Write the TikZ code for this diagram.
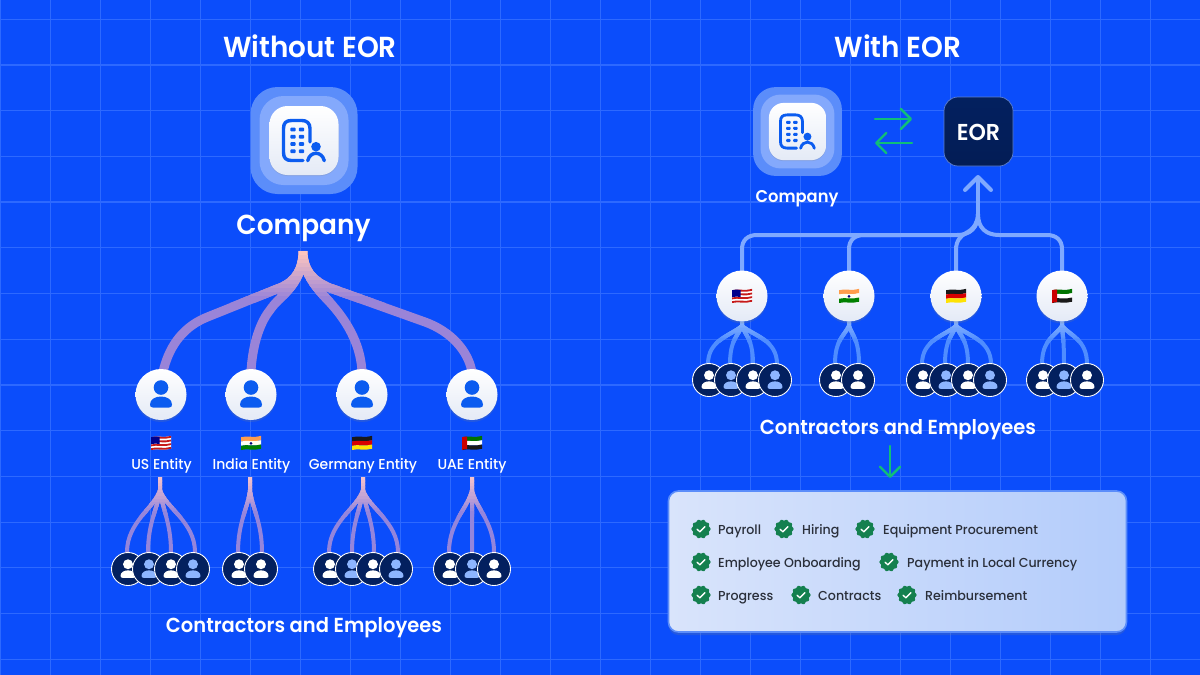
\documentclass[tikz,border=0pt]{standalone}
\usepackage{fontspec}
\setmainfont{Poppins}
\newfontfamily\med{Poppins Medium}[FakeStretch=.97]
\newfontfamily\sem{Poppins SemiBold}[FakeStretch=.96]
\usetikzlibrary{arrows.meta,shadows,calc,fadings}
\definecolor{bgblue}{HTML}{0B4DFB}
\definecolor{gridblue}{HTML}{2D69FF}
\definecolor{outerc}{HTML}{5B8DFA}
\definecolor{midc}{HTML}{84A9FC}
\definecolor{iconblue}{HTML}{0B5CF0}
\definecolor{navy}{HTML}{03205F}
\definecolor{lightp}{HTML}{8DB5FF}
\definecolor{greenc}{HTML}{10BE78}
\definecolor{badge}{HTML}{14804F}
\definecolor{cardtxt}{HTML}{2A2F3A}
\definecolor{purpb}{HTML}{9A84D8}
\definecolor{pinkt}{HTML}{FFC6BE}
\definecolor{sublilac}{HTML}{9485DC}
\definecolor{subpink}{HTML}{F4C2CC}
\definecolor{blueb}{HTML}{4F8DFF}
\definecolor{bluet}{HTML}{86B2FF}
\definecolor{busc}{HTML}{7FA9FF}
\definecolor{circlow}{HTML}{E4EAF6}
\definecolor{cardl}{HTML}{D9E4FB}
\definecolor{cardm}{HTML}{F1F5FE}
\definecolor{cardr}{HTML}{B3CCFB}
\definecolor{eorline}{HTML}{5C7FD0}
\pgfdeclarelayer{bgl}\pgfdeclarelayer{conn}\pgfsetlayers{bgl,conn,main}
\tikzset{
 whitecirc/.style={circle,minimum size=51pt,inner sep=0,top color=white,bottom color=circlow,drop shadow={opacity=.22,shadow xshift=0pt,shadow yshift=-2pt}},
 avatar/.style={circle,minimum size=33pt,inner sep=0,fill=navy,draw=white,line width=.9pt},
 wtext/.style={text=white,inner sep=0,anchor=base},
 ctext/.style={text=cardtxt,inner sep=0,anchor=base west,font=\med\fontsize{13}{15}\selectfont},
 bus/.style={color=busc,line width=4pt},
 greenarrow/.style={color=greenc,line width=2.4pt,line cap=round,-{Straight Barb[round,length=10pt,width=20pt,line width=2.4pt]}},
}
\newcommand\person[4]{\begin{scope}[shift={(#1,#2)},scale=#3]
 \fill[#4] (0,-7) circle (7.3);
 \fill[#4] (-11,10) .. controls (-11,5) and (-6,2) .. (0,2) .. controls (6,2) and (11,5) .. (11,10) .. controls (11,12) and (10,13) .. (8,13) -- (-8,13) .. controls (-10,13) and (-11,12) .. (-11,10) -- cycle;
\end{scope}}
\newcommand\av[4]{\node[avatar] (#1) at (#2,#3) {}; \person{#2}{#3}{.68}{#4}}
\newcommand\companyicon[4]{%
 \pgfmathsetmacro\ra{27*#4}\pgfmathsetmacro\rb{24*#4}\pgfmathsetmacro\rc{18*#4}%
 \pgfmathsetmacro\sa{107*#4}\pgfmathsetmacro\sb{89*#4}\pgfmathsetmacro\sc{69*#4}%
 \pgfmathsetmacro\lw{3.4*#4}%
 \node[rectangle,inner sep=0,minimum size=\sa pt,rounded corners=\ra pt,fill=outerc] (#1outer) at (#2,#3) {};
 \node[rectangle,inner sep=0,minimum size=\sb pt,rounded corners=\rb pt,fill=midc] (#1mid) at (#2,#3) {};
 \node[rectangle,inner sep=0,minimum size=\sc pt,rounded corners=\rc pt,top color=white,bottom color=circlow,drop shadow={opacity=.2,shadow xshift=0pt,shadow yshift=-1pt}] (#1) at (#2,#3) {};
 \begin{scope}[shift={(#2,#3)},scale=#4]
  \draw[iconblue,line width=\lw pt,line cap=round,line join=round] (6,1.5) -- (6,-12) .. controls (6,-17.5) and (2.5,-20) .. (-2,-20) -- (-12.5,-20) .. controls (-18,-20) and (-20.5,-17.5) .. (-20.5,-12) -- (-20.5,12) .. controls (-20.5,17.5) and (-18,20) .. (-12.5,20) -- (-1,20);
  \foreach \yy in {-11,-3.8,3.5,10.8}{\foreach \xx in {-11,-2.5}{
   \fill[iconblue,rounded corners=1pt] (\xx-2.7,\yy-1.9) rectangle (\xx+2.7,\yy+1.9);}}
  \fill[iconblue] (12,6.2) circle (4.8);
  \draw[iconblue,line width=\lw pt,line cap=round] (3.7,20.2) .. controls (5,15) and (8.5,12.8) .. (12,12.8) .. controls (15.5,12.8) and (19,15) .. (20.3,20.2);
 \end{scope}}
\newcommand\strip[3]{\fill[#3] (-10,#1) .. controls (-4,#1-1.8) and (3,#1+1) .. (10,#1-1.3) -- (10,#2-1.3) .. controls (3,#2+1) and (-4,#2-1.8) .. (-10,#2) -- cycle;}
\newcommand\flagus[2]{\begin{scope}[shift={(#1,#2)}]
 \strip{-5.8}{7}{white}
 \foreach \k in {0,2,4,6}{\pgfmathsetmacro\aa{-5.8+\k*1.83}\pgfmathsetmacro\bb{-5.8+(\k+1)*1.83}\strip{\aa}{\bb}{red!75!black!90!white}}
 \fill[blue!55!black] (-10,-5.8) .. controls (-7,-6.8) and (-4,-6.6) .. (-1.5,-6) -- (-1.5,1) .. controls (-4,.4) and (-7,.4) .. (-10,1.2) -- cycle;
\end{scope}}
\newcommand\flagin[2]{\begin{scope}[shift={(#1,#2)}]
 \strip{-5.8}{-1.5}{orange!90!red!70!white}\strip{-1.5}{2.8}{white!95!yellow}\strip{2.8}{7}{green!50!black}
 \fill[blue!50!black] (0,.4) circle (1.5);
\end{scope}}
\newcommand\flagde[2]{\begin{scope}[shift={(#1,#2)}]
 \strip{-5.8}{-1.5}{black!90}\strip{-1.5}{2.8}{red!85!black}\strip{2.8}{7}{yellow!85!orange}
\end{scope}}
\newcommand\flagae[2]{\begin{scope}[shift={(#1,#2)}]
 \strip{-5.8}{-1.5}{green!45!black}\strip{-1.5}{2.8}{white}\strip{2.8}{7}{black!90}
 \fill[red!80!black] (-10,-5.8) .. controls (-8.5,-6.2) and (-7.5,-6.4) .. (-5,-6.5) -- (-5,6) .. controls (-7.5,6) and (-8.5,6.4) .. (-10,7) -- cycle;
\end{scope}}
\newcommand\badgecheck[2]{\begin{scope}[shift={(#1,#2)}]
 \fill[badge] plot[domain=0:360,samples=73,smooth] ({(9.0+.6*cos(10*\x))*cos(\x)},{(9.0+.6*cos(10*\x))*sin(\x)}) -- cycle;
 \draw[white,line width=1.3pt,line cap=round,line join=round] (-4,.2) -- (-1.2,2.8) -- (4,-2.4);
\end{scope}}
\newcommand\gradpaths[6]{%
 \draw[line width=#2,color=#3] #1;
 \foreach \i in {0,...,11}{
  \pgfmathsetmacro\ya{#5+\i*#6/12}
  \pgfmathsetmacro\yb{#5+(\i+1.4)*#6/12}
  \pgfmathsetmacro\pct{100-\i*100/11}
  \begin{scope}
   \clip (0,\ya) rectangle (1200,\yb);
   \draw[line width=#2,color=#4!\pct!#3] #1;
  \end{scope}}}
\newcommand\leafL[4]{(#1) -- (#2,490) .. controls ({#2+.14*(#3-#2)},507) and (#3,522) .. (#3,552) -- (#4.center)}
\newcommand\leafR[4]{(#1) -- (#2,326) .. controls ({#2+.35*(#3-#2)},336) and (#3,340) .. (#3,364) -- (#4.center)}
\begin{document}
\begin{tikzpicture}[x=1pt,y=-1pt]
\useasboundingbox (0,0) rectangle (1200,675);
\begin{pgfonlayer}{bgl}
 \fill[bgblue] (0,0) rectangle (1200,675);
 \foreach \k in {0,...,23}{\draw[gridblue,line width=1.2pt] ({.7+50*\k},0) -- ({.7+50*\k},675);}
 \foreach \k in {0,...,14}{\draw[gridblue,line width=1.2pt] (0,{19.2+45.72*\k}) -- (1200,{19.2+45.72*\k});}
\end{pgfonlayer}

% ---- titles
\node[wtext,font=\sem\fontsize{29}{32}\selectfont] (titleL) at (310,57) {Without EOR};
\node[wtext,font=\sem\fontsize{29}{32}\selectfont] (titleR) at (898,57) {With EOR};

% ---- left side
\companyicon{compL}{304}{140.5}{1}
\node[wtext,font=\sem\fontsize{27.5}{32}\selectfont] (compLabelL) at (303.5,234) {Company};
\coordinate (rootL) at (303,251);

\node[whitecirc] (e1) at (161,394.5) {}; \person{161}{394.5}{1}{iconblue}
\node[whitecirc] (e2) at (251,394.5) {}; \person{251}{394.5}{1}{iconblue}
\node[whitecirc] (e3) at (362,394.5) {}; \person{362}{394.5}{1}{iconblue}
\node[whitecirc] (e4) at (472,394.5) {}; \person{472}{394.5}{1}{iconblue}

\flagus{161}{443}\flagin{251}{443}\flagde{362}{443}\flagae{472}{443}
\node[wtext,font=\med\fontsize{14.4}{16}\selectfont] (t1) at (161.5,469) {US Entity};
\node[wtext,font=\med\fontsize{14.4}{16}\selectfont] (t2) at (251.5,469) {India Entity};
\node[wtext,font=\med\fontsize{14.4}{16}\selectfont] (t3) at (363,469) {Germany Entity};
\node[wtext,font=\med\fontsize{14.4}{16}\selectfont] (t4) at (472,469) {UAE Entity};
\coordinate (r1) at (160,477);\coordinate (r2) at (250,477);\coordinate (r3) at (363,477);\coordinate (r4) at (472,477);

\av{a1}{128}{569}{white}\av{a2}{149}{569}{lightp}\av{a3}{171}{569}{white}\av{a4}{193}{569}{lightp}
\av{b1}{239}{569}{white}\av{b2}{261}{569}{white}
\av{c1}{330}{569}{white}\av{c2}{352}{569}{lightp}\av{c3}{373}{569}{white}\av{c4}{396}{569}{lightp}
\av{d1}{450}{569}{white}\av{d2}{472}{569}{lightp}\av{d3}{494}{569}{white}
\node[wtext,font=\sem\fontsize{20.3}{24}\selectfont] (contrL) at (304,632) {Contractors and Employees};

% ---- right side
\companyicon{compR}{797.5}{131.5}{.83}
\node[wtext,font=\sem\fontsize{17}{20}\selectfont] (compLabelR) at (797,202) {Company};
\node[rectangle,inner sep=0,minimum size=69pt,rounded corners=14pt,top color=navy,bottom color=navy!90!black,draw=eorline,line width=.7pt] (eor) at (978.5,131.5) {};
\node[wtext,font=\sem\fontsize{23}{24}\selectfont] (eorT) at (978.5,140) {EOR};
\coordinate (gA) at (875,119);\coordinate (gB) at (912,119);
\coordinate (gC) at (912,143);\coordinate (gD) at (875,143);
\draw[greenarrow] (gA) -- (gB);
\draw[greenarrow] (gC) -- (gD);

\node[whitecirc] (f1) at (742,296) {}; \flagus{742}{296}
\node[whitecirc] (f2) at (849,296) {}; \flagin{849}{296}
\node[whitecirc] (f3) at (956,296) {}; \flagde{956}{296}
\node[whitecirc] (f4) at (1062,296) {}; \flagae{1062}{296}

\av{g1}{709}{380}{white}\av{g2}{731}{380}{lightp}\av{g3}{753}{380}{white}\av{g4}{775}{380}{lightp}
\av{h1}{836}{380}{white}\av{h2}{858}{380}{white}
\av{i1}{923}{380}{white}\av{i2}{946}{380}{lightp}\av{i3}{968}{380}{white}\av{i4}{990}{380}{lightp}
\av{j1}{1043}{380}{white}\av{j2}{1064}{380}{lightp}\av{j3}{1087}{380}{white}
\node[wtext,font=\sem\fontsize{20.3}{24}\selectfont] (contrR) at (898,434) {Contractors and Employees};
\coordinate (gE) at (890,446);\coordinate (gF) at (890,478);
\draw[greenarrow] (gE) -- (gF);

% ---- card
\node[rectangle,inner sep=0,minimum width=458pt,minimum height=141pt,rounded corners=10pt,left color=cardl,middle color=cardm,right color=cardr,draw=outerc,line width=1.6pt,drop shadow={opacity=.22,shadow xshift=0pt,shadow yshift=-3pt}] (card) at (897.5,561.5) {};
\badgecheck{701}{529}\badgecheck{784}{529}\badgecheck{865}{529}
\badgecheck{701}{562}\badgecheck{889}{562}
\badgecheck{701}{595}\badgecheck{801}{595}\badgecheck{907}{595}
\node[ctext] (k1) at (718,534) {Payroll};
\node[ctext] (k2) at (802,534) {Hiring};
\node[ctext] (k3) at (883,534) {Equipment Procurement};
\node[ctext] (k4) at (718,567) {Employee Onboarding};
\node[ctext] (k5) at (907,567) {Payment in Local Currency};
\node[ctext] (k6) at (718,600) {Progress};
\node[ctext] (k7) at (818,600) {Contracts};
\node[ctext] (k8) at (925,600) {Reimbursement};

% ---- connectors, under the nodes
\begin{pgfonlayer}{conn}
 \gradpaths{(rootL) .. controls (303,270) and (295,281) .. (282,287) -- (205,318) .. controls (180,329) and (168,350) .. (163,372) -- (e1.center)
  (rootL) .. controls (303,285) and (280,295) .. (270,310) .. controls (258,325) and (252,350) .. (251,372) -- (e2.center)
  (rootL) .. controls (303,280) and (325,295) .. (338,312) .. controls (352,330) and (361,350) .. (362,372) -- (e3.center)
  (rootL) .. controls (303,272) and (315,282) .. (330,288) -- (425,322) .. controls (450,331) and (468,350) .. (472,372) -- (e4.center)}{9pt}{purpb}{pinkt}{251}{50}
 \gradpaths{\leafL{r1}{160}{127}{a1} \leafL{r1}{160}{148}{a2} \leafL{r1}{160}{171}{a3} \leafL{r1}{160}{195}{a4}}{4pt}{sublilac}{subpink}{477}{38}
 \gradpaths{\leafL{r2}{250}{238}{b1} \leafL{r2}{250}{262}{b2}}{4pt}{sublilac}{subpink}{477}{38}
 \gradpaths{\leafL{r3}{363}{329}{c1} \leafL{r3}{363}{352}{c2} \leafL{r3}{363}{374}{c3} \leafL{r3}{363}{398}{c4}}{4pt}{sublilac}{subpink}{477}{38}
 \gradpaths{\leafL{r4}{472}{449}{d1} \leafL{r4}{472}{472}{d2} \leafL{r4}{472}{494}{d3}}{4pt}{sublilac}{subpink}{477}{38}
 \gradpaths{\leafR{f1.center}{742}{708}{g1} \leafR{f1.center}{742}{730}{g2} \leafR{f1.center}{742}{753}{g3} \leafR{f1.center}{742}{777}{g4}}{4pt}{blueb}{bluet}{322}{20}
 \gradpaths{\leafR{f2.center}{849}{835}{h1} \leafR{f2.center}{849}{859}{h2}}{4pt}{blueb}{bluet}{322}{20}
 \gradpaths{\leafR{f3.center}{956}{922}{i1} \leafR{f3.center}{956}{945}{i2} \leafR{f3.center}{956}{968}{i3} \leafR{f3.center}{956}{991}{i4}}{4pt}{blueb}{bluet}{322}{20}
 \gradpaths{\leafR{f4.center}{1062}{1042}{j1} \leafR{f4.center}{1062}{1064}{j2} \leafR{f4.center}{1062}{1087}{j3}}{4pt}{blueb}{bluet}{322}{20}
 \coordinate (join) at (978,214);
 \coordinate (tip) at (978,175);
 \draw[bus] (f1.center) -- (742,249) .. controls (742,240) and (748,235) .. (757,235) -- (957,235) .. controls (970,235) and (978,228) .. (join);
 \draw[bus] (f2.center) -- (849,249) .. controls (849,240) and (855,235) .. (864,235) -- (900,235);
 \draw[bus] (f3.center) -- (956,250) .. controls (956,240) and (961,236) .. (966,233) .. controls (974,229) and (978,222) .. (join);
 \draw[bus] (f4.center) -- (1062,249) .. controls (1062,240) and (1056,235) .. (1047,235) -- (999,235) .. controls (986,235) and (978,228) .. (join);
 \draw[bus,-{Straight Barb[round,length=13pt,width=26pt,line width=4pt]}] (join) -- (tip);
\end{pgfonlayer}
\end{tikzpicture}
\end{document}
